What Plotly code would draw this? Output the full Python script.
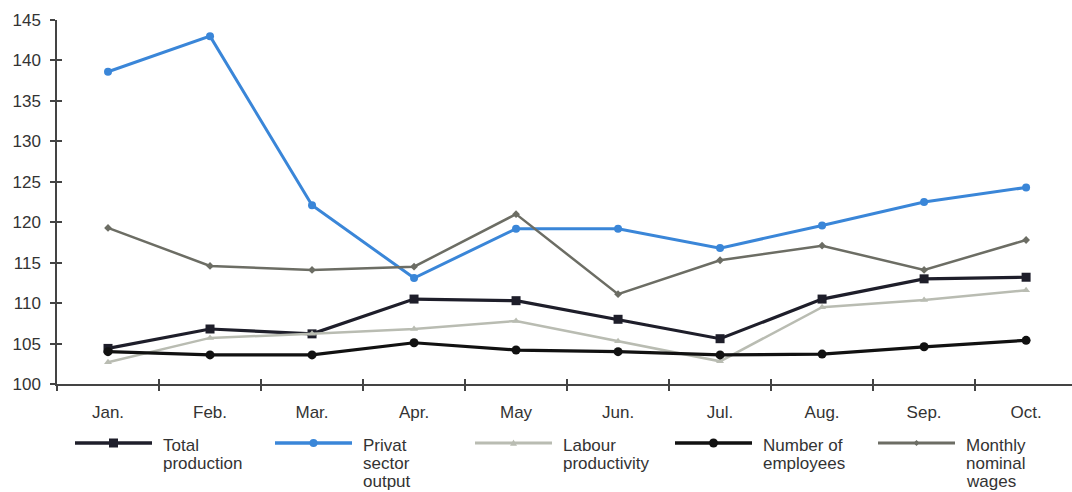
import plotly.graph_objects as go

months = ["Jan.", "Feb.", "Mar.", "Apr.", "May", "Jun.", "Jul.", "Aug.", "Sep.", "Oct."]

total_production = [104.4, 106.8, 106.2, 110.5, 110.3, 108.0, 105.6, 110.5, 113.0, 113.2]
private_sector_output = [138.6, 143.0, 122.1, 113.1, 119.2, 119.2, 116.8, 119.6, 122.5, 124.3]
labour_productivity = [102.7, 105.7, 106.2, 106.8, 107.8, 105.3, 102.8, 109.5, 110.4, 111.6]
number_of_employees = [104.0, 103.6, 103.6, 105.1, 104.2, 104.0, 103.6, 103.7, 104.6, 105.4]
monthly_nominal_wages = [119.3, 114.6, 114.1, 114.5, 121.0, 111.1, 115.3, 117.1, 114.1, 117.8]

legend_labels = [
    ["Total", "production"],
    ["Privat", "sector", "output"],
    ["Labour", "productivity"],
    ["Number of", "employees"],
    ["Monthly", "nominal", "wages"],
]

series = [
    (total_production, "#1e1e2a", "square", 9, 3.2),
    (private_sector_output, "#3a86d8", "circle", 8, 3),
    (labour_productivity, "#b9bcb2", "triangle-up", 7, 2.5),
    (number_of_employees, "#111111", "circle", 9, 3.2),
    (monthly_nominal_wages, "#6c6d64", "diamond", 6, 2.5),
]

W, H = 1072, 492
ML, MR, MT, MB = 57, 0, 20, 108
PW, PH = W - ML - MR, H - MT - MB

def px_x(px):
    return (px - ML) / PW

def px_y(py):
    return (H - MB - py) / PH

fig = go.Figure()
for (vals, color, sym, msize, lw), lab in zip(series, legend_labels):
    fig.add_trace(go.Scatter(
        x=months, y=vals, name=" ".join(lab), mode="lines+markers",
        line=dict(color=color, width=lw),
        marker=dict(symbol=sym, size=msize, color=color),
        showlegend=False,
    ))

font_family = "Liberation Sans, Arial, sans-serif"

# manual legend (lines, markers, multi-line text)
shapes = []
annotations = []
item_x0 = [75, 275, 475, 675, 878]
line_len = 77
leg_y = 443
for i, ((vals, color, sym, msize, lw), lab) in enumerate(zip(series, legend_labels)):
    x0 = item_x0[i]
    x1 = x0 + line_len
    xc = (x0 + x1) / 2
    shapes.append(dict(type="line", xref="paper", yref="paper",
                       x0=px_x(x0), x1=px_x(x1), y0=px_y(leg_y), y1=px_y(leg_y),
                       line=dict(color=color, width=lw + 0.5)))
    r = msize / 2
    if sym == "square":
        shapes.append(dict(type="rect", xref="paper", yref="paper",
                           x0=px_x(xc - r), x1=px_x(xc + r), y0=px_y(leg_y + r), y1=px_y(leg_y - r),
                           fillcolor=color, line=dict(width=0)))
    elif sym == "circle":
        shapes.append(dict(type="circle", xref="paper", yref="paper",
                           x0=px_x(xc - r), x1=px_x(xc + r), y0=px_y(leg_y + r), y1=px_y(leg_y - r),
                           fillcolor=color, line=dict(width=0)))
    elif sym == "triangle-up":
        path = "M {} {} L {} {} L {} {} Z".format(
            px_x(xc - r), px_y(leg_y + r * 0.8), px_x(xc + r), px_y(leg_y + r * 0.8),
            px_x(xc), px_y(leg_y - r))
        shapes.append(dict(type="path", xref="paper", yref="paper", path=path,
                           fillcolor=color, line=dict(width=0)))
    else:
        path = "M {} {} L {} {} L {} {} L {} {} Z".format(
            px_x(xc - r), px_y(leg_y), px_x(xc), px_y(leg_y - r),
            px_x(xc + r), px_y(leg_y), px_x(xc), px_y(leg_y + r))
        shapes.append(dict(type="path", xref="paper", yref="paper", path=path,
                           fillcolor=color, line=dict(width=0)))
    for j, txt in enumerate(lab):
        annotations.append(dict(
            text=txt, xref="paper", yref="paper",
            x=px_x(x1 + 9), y=px_y(leg_y + 2 + 18 * j),
            xanchor="left", yanchor="middle", showarrow=False,
            font=dict(size=17, color="#333333", family=font_family),
        ))

fig.update_layout(
    width=W, height=H,
    margin=dict(l=ML, r=MR, t=MT, b=MB, autoexpand=False),
    paper_bgcolor="white", plot_bgcolor="white",
    font=dict(family=font_family, size=17, color="#333333"),
    showlegend=False,
    shapes=shapes,
    annotations=annotations,
    xaxis=dict(
        type="category", range=[-0.5, 9.45], showgrid=False, zeroline=False,
        showline=True, linecolor="#444444", linewidth=1.5,
        ticks="outside", ticklen=5, tickwidth=1.5, tickcolor="#444444",
        tickson="boundaries", tickfont=dict(size=17, color="#333333"),
        ticklabelstandoff=12,
    ),
    yaxis=dict(
        range=[100, 145], tickvals=list(range(100, 146, 5)),
        showgrid=False, zeroline=False,
        showline=True, linecolor="#444444", linewidth=1.5,
        ticks="outside", ticklen=5, tickwidth=1.5, tickcolor="#444444",
        tickfont=dict(size=17, color="#333333"), ticklabelstandoff=6,
    ),
    xaxis2=dict(
        type="category", overlaying="x", anchor="y", side="bottom",
        range=[-0.5, 9.45], categoryarray=months, categoryorder="array",
        showgrid=False, zeroline=False, showline=False,
        ticks="inside", ticklen=5, tickwidth=1.5, tickcolor="#444444",
        tickson="boundaries", showticklabels=False,
    ),
    yaxis2=dict(
        overlaying="y", anchor="x", side="left", range=[100, 145],
        tickvals=list(range(100, 146, 5)), showgrid=False, zeroline=False,
        showline=False, ticks="inside", ticklen=5, tickwidth=1.5,
        tickcolor="#444444", showticklabels=False,
    ),
)

# invisible helper trace so the overlay axes (inner tick halves) render
fig.add_trace(go.Scatter(x=months, y=total_production, xaxis="x2", yaxis="y2",
                         mode="lines", line=dict(width=0), opacity=0,
                         showlegend=False, hoverinfo="skip"))

fig.write_html("out.html")
